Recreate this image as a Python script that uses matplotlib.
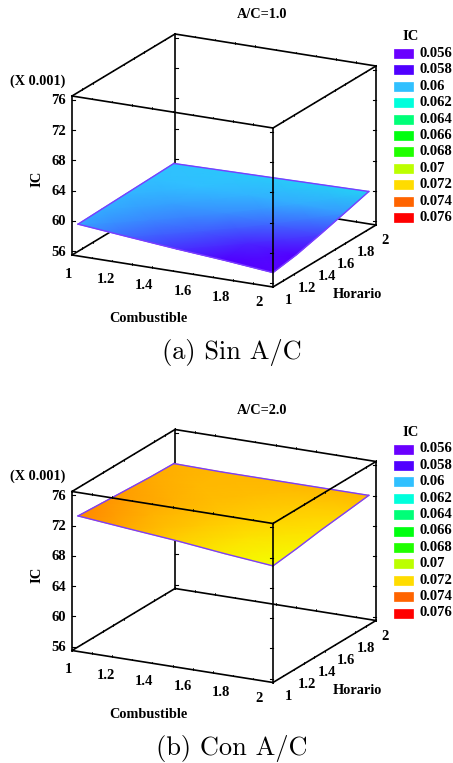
import numpy as np
import matplotlib
matplotlib.use('Agg')
import matplotlib.pyplot as plt
from matplotlib.colors import LinearSegmentedColormap
from matplotlib.patches import Rectangle

# Data
combustible = [1.03, 1.27, 1.52, 1.76, 2.0]
horario = [1.0, 1.23, 1.46, 1.70, 1.93]

ic_sin = [[59.7, 59.1, 58.5, 58.0, 57.4],
          [59.8, 59.4, 59.0, 58.4, 57.9],
          [59.9, 59.7, 59.5, 59.1, 58.7],
          [60.0, 60.0, 59.9, 59.8, 59.6],
          [60.1, 60.2, 60.3, 60.4, 60.5]]

ic_con = [[73.4, 72.8, 72.2, 71.5, 70.9],
          [73.2, 72.7, 72.3, 71.8, 71.3],
          [73.0, 72.7, 72.4, 72.1, 71.8],
          [72.8, 72.6, 72.5, 72.3, 72.2],
          [72.7, 72.6, 72.6, 72.6, 72.6]]

xy_ticks = [1, 1.2, 1.4, 1.6, 1.8, 2]
xy_labels = ['1', '1.2', '1.4', '1.6', '1.8', '2']
xy_minor = [1, 1.1, 1.2, 1.3, 1.4, 1.5, 1.6, 1.7, 1.8, 1.9, 2]
z_ticks = [56, 60, 64, 68, 72, 76]
z_min, z_max = 55.5, 76.5

legend_levels = ['0.056', '0.058', '0.06', '0.062', '0.064', '0.066',
                 '0.068', '0.07', '0.072', '0.074', '0.076']
legend_values = [56, 58, 60, 62, 64, 66, 68, 70, 72, 74, 76]
legend_colors = ['#6a00ff', '#5000ff', '#30c0ff', '#00ffdc', '#00ff78', '#00ff10',
                 '#20ff00', '#bcff00', '#ffdc00', '#ff6400', '#ff0000']

SERIF = 'Liberation Serif'
EDGE = '#7a3cff'

# extra yellow stop so 0.07 -> 0.072 goes round the hue circle
stops = [(v - 56) / 20 for v in legend_values] + [(70.9 - 56) / 20]
cols = legend_colors + ['#f4ff00']
pairs = sorted(zip(stops, cols))
cmap = LinearSegmentedColormap.from_list('ic', pairs, N=512)

fig = plt.figure(figsize=(4.53, 7.63), dpi=100)
ax = fig.add_axes([0, 0, 1, 1])
ax.set_xlim(0, 453)
ax.set_ylim(763, 0)
ax.axis('off')


def panel(ic, title, caption, dy, cap_dy):
    # oblique view of the box, same as the original plot
    def proj(c, h, z):
        c, h, z = np.asarray(c, float), np.asarray(h, float), np.asarray(z, float)
        x = 72 + 201 * (c - 1) + 103 * (h - 1)
        y = 255 + dy + 32 * (c - 1) - 62 * (h - 1) - 159 * (z - z_min) / (z_max - z_min)
        return x, y

    def edge(p, q, zo, lw=1.2):
        x, y = proj(*zip(p, q))
        ax.plot(x, y, color='black', lw=lw, zorder=zo, solid_capstyle='projecting')

    # back edges, behind the surface
    edge((1, 2, z_min), (2, 2, z_min), 1)
    edge((1, 1, z_min), (1, 2, z_min), 1)
    edge((1, 2, z_min), (1, 2, z_max), 1)
    edge((1, 1, z_max), (1, 2, z_max), 1)
    edge((1, 2, z_max), (2, 2, z_max), 1)
    edge((2, 2, z_min), (2, 2, z_max), 1)
    edge((1, 1, z_min), (1, 1, z_max), 1)
    edge((1, 1, z_min), (2, 1, z_min), 1)
    edge((2, 1, z_min), (2, 2, z_min), 1)

    # surface
    C, H = np.meshgrid(combustible, horario)
    Z = np.array(ic)
    X2, Y2 = proj(C, H, Z)
    ax.pcolormesh(X2, Y2, Z, shading='gouraud', cmap=cmap, vmin=56, vmax=76, zorder=2)
    ax.plot(X2[0], Y2[0], color=EDGE, lw=1, zorder=3)
    ax.plot(X2[-1], Y2[-1], color=EDGE, lw=1, zorder=3)
    ax.plot(X2[:, 0], Y2[:, 0], color=EDGE, lw=1, zorder=3)
    ax.plot(X2[:, -1], Y2[:, -1], color=EDGE, lw=1, zorder=3)

    # front edges, over the surface
    edge((1, 1, z_max), (2, 1, z_max), 4)
    edge((2, 1, z_max), (2, 2, z_max), 4)
    edge((2, 1, z_min), (2, 1, z_max), 4)

    # z ticks on the four vertical edges
    for z in z_ticks:
        for c, h, d, zo in [(1, 1, 3, 1), (1, 2, 3, 1), (2, 1, -3, 4), (2, 2, -3, 1)]:
            x, y = proj(c, h, z)
            ax.plot([x, x + d], [y, y], color='black', lw=0.8, zorder=zo)
        x, y = proj(1, 1, z)
        ax.text(x - 6, y + 1, str(z), ha='right', va='center', family=SERIF,
                fontweight='bold', fontsize=10.5)

    # small ticks along the horizontal edges
    for v in xy_minor:
        for p, zo in [((v, 1, z_min), 1), ((v, 2, z_min), 1), ((v, 1, z_max), 4), ((v, 2, z_max), 1),
                      ((1, v, z_min), 1), ((2, v, z_min), 1), ((1, v, z_max), 1), ((2, v, z_max), 4)]:
            x, y = proj(*p)
            ax.plot([x, x], [y, y - 1.5], color='black', lw=0.6, zorder=zo)

    # axis tick labels
    for v, lab in zip(xy_ticks, xy_labels):
        t = v - 1
        x, y = proj(v, 1, z_min)
        ax.text(x - 4 - 10 * t, y + 19 - 3 * t, lab, ha='center', va='center', family=SERIF,
                fontweight='bold', fontsize=10.5)
        x, y = proj(2, v, z_min)
        ax.text(x + 15 - 6 * t, y + 14 + 2 * t, lab, ha='center', va='center', family=SERIF,
                fontweight='bold', fontsize=10.5)

    bold = dict(ha='center', va='center', family=SERIF, fontweight='bold')
    ax.text(262, 15 + dy, title, fontsize=10.3, **bold)
    ax.text(37.5, 81 + dy, '(X 0.001)', fontsize=10.3, **bold)
    ax.text(37, 179 + dy, 'IC', fontsize=10.5, rotation=90, **bold)
    ax.text(148, 319 + dy, 'Combustible', fontsize=10.3, **bold)
    ax.text(357, 295 + dy, 'Horario', fontsize=10.3, **bold)

    # legend
    ax.text(411, 37 + dy, 'IC', fontsize=10.5, **bold)
    for i, (lab, col) in enumerate(zip(legend_levels, legend_colors)):
        y = 53.5 + 16.4 * i + dy
        ax.add_patch(Rectangle((394, y - 4.5), 19, 9, facecolor=col, edgecolor=col, lw=0.5))
        ax.text(419, y, lab, ha='left', va='center', family=SERIF, fontweight='bold', fontsize=10.5)

    ax.text(232, 352 + cap_dy, caption, ha='center', va='center', family='cmr10', fontsize=19)


panel(ic_sin, 'A/C=1.0', '(a) Sin A/C', 0, 0)
panel(ic_con, 'A/C=2.0', '(b) Con A/C', 395.5, 396)

plt.savefig('out.png', dpi=100)
plt.close()
